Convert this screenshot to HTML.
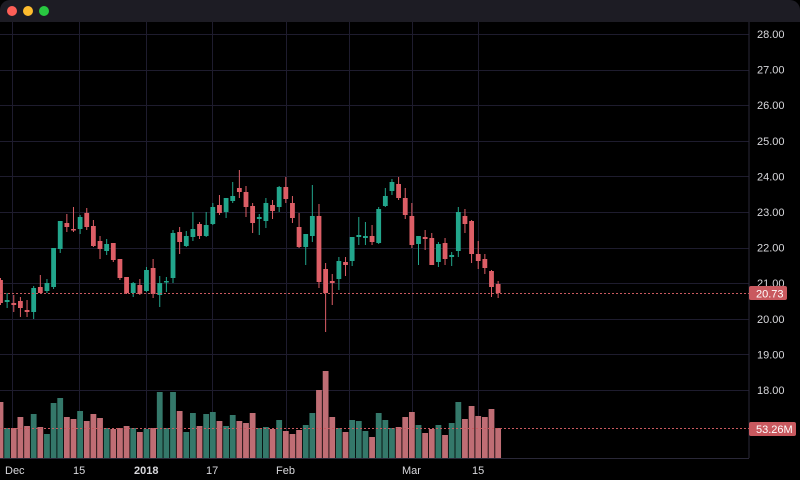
<!DOCTYPE html>
<html><head><meta charset="utf-8"><style>
html,body{margin:0;padding:0;background:#000;width:800px;height:480px;overflow:hidden}
svg{display:block}
text{font-family:"Liberation Sans",sans-serif;font-size:11px;fill:#d8d8dc}
</style></head><body>
<svg id="s" width="800" height="480" xmlns="http://www.w3.org/2000/svg">
<rect width="800" height="480" fill="#000"/>
<rect x="0" y="0" width="800" height="30" rx="10" fill="#1d1c24"/>
<rect x="0" y="12" width="800" height="10" fill="#1d1c24"/>
<circle cx="12" cy="11" r="5" fill="#fe5f57"/>
<circle cx="28" cy="11" r="5" fill="#febc2e"/>
<circle cx="44" cy="11" r="5" fill="#28c840"/>
<rect x="0" y="22" width="800" height="458" fill="#000"/>
<g id="grid"></g>
<g id="vol"></g>
<g id="cdl"></g>
<line x1="749" y1="22" x2="749" y2="458" stroke="#2a2838" stroke-width="1"/>
<line x1="0" y1="458.5" x2="749" y2="458.5" stroke="#2a2838" stroke-width="1"/>
<line x1="0" y1="293.5" x2="749" y2="293.5" stroke="#c9595f" stroke-width="1" stroke-dasharray="2,2"/>
<line x1="0" y1="428.5" x2="749" y2="428.5" stroke="#c9595f" stroke-width="1" stroke-dasharray="2,2"/>
<g id="lbl"></g>
<rect x="749" y="286" width="38" height="14" rx="2" fill="#c9595f"/>
<text x="756" y="297.5" style="fill:#fff">20.73</text>
<rect x="749" y="422" width="47" height="14" rx="2" fill="#c9595f"/>
<text x="756" y="433" style="fill:#fff">53.26M</text>
<text x="5" y="474">Dec</text>
<text x="73" y="474">15</text>
<text x="134" y="474" style="font-weight:bold">2018</text>
<text x="206" y="474">17</text>
<text x="276" y="474">Feb</text>
<text x="402" y="474">Mar</text>
<text x="472" y="474">15</text>
</svg>
<script>
var NS="http://www.w3.org/2000/svg";
function el(p,t,a){var e=document.createElementNS(NS,t);for(var k in a)e.setAttribute(k,a[k]);document.getElementById(p).appendChild(e);return e;}
var gc="#1e1c2e";
[34,69.6,105.2,140.8,176.4,212,247.6,283.2,318.8,354.4,390].forEach(function(y){el("grid","line",{x1:0,x2:749,y1:Math.round(y)+.5,y2:Math.round(y)+.5,stroke:gc})});
[12,79,146,212,286,349,412,478].forEach(function(x){el("grid","line",{x1:x+.5,x2:x+.5,y1:22,y2:458,stroke:gc})});
var lab=["28.00","27.00","26.00","25.00","24.00","23.00","22.00","21.00","20.00","19.00","18.00"];
lab.forEach(function(l,i){var y=34+i*35.6;var t=el("lbl","text",{x:757,y:y+4});t.textContent=l;});
// [color, openY, closeY, highY, lowY]  (g=green r=red); body top/bottom
var C=[
["r",280,303,278,305],["g",300,302,293,308],["r",303,305,295,312],["r",301,308,297,317],["r",310,312,300,317],
["g",288,312,286,319],["r",287,293,275,293],["g",283,291,279,293],["g",248,287,248,289],["g",221,249,221,253],
["r",223,227,214,232],["r",229,230,207,232],["g",217,229,215,234],["r",213,227,208,230],["r",226,246,220,247],
["r",241,249,236,259],["g",244,251,239,255],["r",243,260,243,262],["r",259,278,259,280],["r",277,293,277,294],
["g",283,293,282,297],["r",285,294,279,295],["g",270,291,267,292],["r",268,294,259,298],["g",283,295,276,307],
["g",281,282,277,292],["g",233,278,230,283],["r",232,242,227,254],["g",236,246,231,247],["g",229,237,212,241],
["r",224,236,222,239],["g",225,236,212,237],["g",207,224,203,225],["r",205,213,195,215],["g",198,212,198,218],
["g",196,201,182,203],["r",188,192,170,198],["r",192,207,186,217],["r",206,223,203,233],["g",217,219,214,235],
["g",203,221,198,228],["r",205,211,200,219],["g",187,207,186,212],["r",187,199,177,203],["r",203,218,196,223],
["r",227,247,213,248],["g",234,247,234,265],["g",216,236,185,242],["r",216,282,204,288],["r",269,293,263,332],
["r",281,283,274,305],["g",261,279,257,290],["r",262,265,257,276],["g",237,261,237,266],["g",235,237,217,245],
["g",236,238,222,245],["r",236,242,225,245],["g",209,243,207,244],["g",196,206,188,207],["g",182,191,179,195],
["r",184,198,177,200],["r",198,215,188,219],["r",216,245,203,248],["g",236,244,236,265],["r",237,239,230,250],
["r",238,265,233,265],["g",244,262,242,267],["r",243,259,238,265],["g",255,257,252,266],["g",212,251,207,257],
["r",216,224,209,233],["r",221,254,220,263],["r",254,261,241,269],["r",259,268,254,274],["r",271,287,270,297],
["r",284,293,281,298]];
var V=[402,428,428,417,426,414,427,434,403,398,417,419,411,421,414,418,428,429,428,426,428,432,429,428,392,428,392,411,432,413,426,414,412,421,426,415,421,423,413,428,
427,429,420,431,434,430,425,413,390,371,417,428,432,420,421,431,437,413,420,428,427,417,412,425,433,429,425,435,423,402,419,406,416,417,409,428];
for(var i=0;i<C.length;i++){
 var c=C[i],x=i*6.635+0.5;
 var col=c[0]=="g"?"#22a68c":"#dd5e66";
 var vc=c[0]=="g"?"#34786a":"#bf6d74";
 el("vol","rect",{x:(x-2.9).toFixed(2),y:V[i],width:5.8,height:458-V[i],fill:vc});
 el("cdl","line",{x1:x.toFixed(2),x2:x.toFixed(2),y1:c[3],y2:c[4],stroke:col,"stroke-width":1});
 var h=Math.max(c[2]-c[1],1.5);
 el("cdl","rect",{x:(x-2.4).toFixed(2),y:c[1],width:4.8,height:h,fill:col});
}
</script>
</body></html>
